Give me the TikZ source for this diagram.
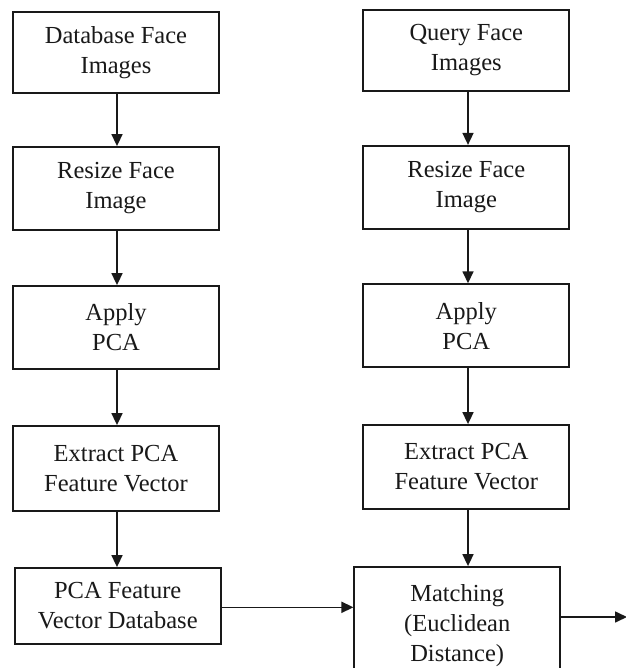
\documentclass[tikz,border=0pt]{standalone}
\usepackage{fontspec}
\setmainfont{Liberation Serif}
\usetikzlibrary{arrows.meta}
\begin{document}
\begin{tikzpicture}[x=1pt,y=-1pt,
  box/.style={draw=black!90, line width=1.8pt, minimum width=206pt, align=center,
    font=\fontsize{24.5}{30}\selectfont, text=black!90, inner sep=0pt},
  arr/.style={draw=black!90, line width=1.6pt, -{Triangle[length=12pt,width=11pt]}}]
\useasboundingbox (0,0) rectangle (625,668);
\fill[white] (0,0) rectangle (625,668);
% left column
\node[box, minimum height=81pt] (L1) at (116,52.5) {Database Face\\Images};
\node[box, minimum height=83pt] (L2) at (116,188.5) {Resize Face\\Image};
\node[box, minimum height=83pt] (L3) at (116,327.5) {Apply\\PCA};
\node[box, minimum height=85pt] (L4) at (116,468.5) {Extract PCA\\Feature Vector};
\node[box, minimum height=76pt] (L5) at (117.7,606) {PCA Feature\\Vector Database};
% right column
\node[box, minimum height=81pt] (R1) at (466.3,50.5) {Query Face\\Images};
\node[box, minimum height=83pt] (R2) at (466.3,187.3) {Resize Face\\Image};
\node[box, minimum height=83pt] (R3) at (466.3,325.7) {Apply\\PCA};
\node[box, minimum height=84pt] (R4) at (466.3,467) {Extract PCA\\Feature Vector};
\node[box, minimum width=205.7pt, minimum height=117pt] (M) at (457.2,625.5) {Matching\\(Euclidean\\Distance)};
% connectors
\coordinate (lx) at (117,0);
\coordinate (rx) at (468,0);
\draw[arr] (lx |- L1.south) -- (lx |- L2.north);
\draw[arr] (lx |- L2.south) -- (lx |- L3.north);
\draw[arr] (lx |- L3.south) -- (lx |- L4.north);
\draw[arr] (lx |- L4.south) -- (lx |- L5.north);
\draw[arr] (rx |- R1.south) -- (rx |- R2.north);
\draw[arr] (rx |- R2.south) -- (rx |- R3.north);
\draw[arr] (rx |- R3.south) -- (rx |- R4.north);
\draw[arr] (rx |- R4.south) -- (rx |- M.north);
\coordinate (hy) at (0,607.3);
\draw[arr] (L5.east |- hy) -- (M.west |- hy);
\coordinate (out) at (627,617);
\draw[arr] (M.east |- out) -- (out);
\end{tikzpicture}
\end{document}
